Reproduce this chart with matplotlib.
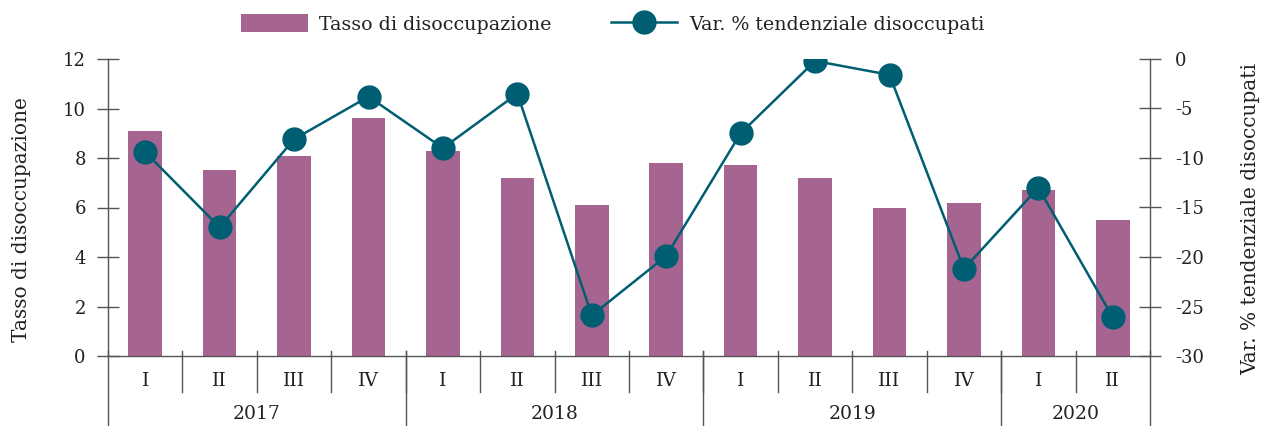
import matplotlib
matplotlib.use("Agg")
import matplotlib.pyplot as plt
from matplotlib.lines import Line2D
from matplotlib.patches import Patch
import numpy as np

quarters = ["I", "II", "III", "IV", "I", "II", "III", "IV", "I", "II", "III", "IV", "I", "II"]
years = ["2017", "2018", "2019", "2020"]
year_counts = [4, 4, 4, 2]
tasso = [9.1, 7.5, 8.1, 9.6, 8.3, 7.2, 6.1, 7.8, 7.7, 7.2, 6.0, 6.2, 6.7, 5.5]
var_pct = [-9.4, -17.0, -8.1, -3.8, -9.0, -3.5, -25.9, -19.9, -7.5, -0.2, -1.6, -21.2, -13.0, -26.1]

bar_color = "#A66590"
line_color = "#005E73"
text_color = "#222222"
axis_color = "#555555"

plt.rcParams["font.family"] = ["DejaVu Serif"]
plt.rcParams["font.size"] = 13
plt.rcParams["axes.unicode_minus"] = False

fig = plt.figure(figsize=(12.66, 4.26), dpi=100)
ax = fig.add_axes([108/1266, 1-356/426, (1150-108)/1266, (356-59)/426])
ax2 = ax.twinx()

x = np.arange(len(quarters))
ax.bar(x, tasso, width=0.45, color=bar_color, zorder=2)
ax2.plot(x, var_pct, color=line_color, lw=1.8, marker="o", markersize=16.5, zorder=3)

ax.set_xlim(-0.5, len(quarters) - 0.5)
ax.set_ylim(0, 12)
ax.set_yticks(range(0, 13, 2))
ax2.set_ylim(-30, 0)
ax2.set_yticks(range(-30, 1, 5))

for a in (ax, ax2):
    a.spines["top"].set_visible(False)
    for s in a.spines.values():
        s.set_color(axis_color)
        s.set_linewidth(1)
ax.spines["right"].set_visible(False)
ax2.spines["left"].set_visible(False)
ax2.spines["bottom"].set_visible(False)

ax.tick_params(axis="y", direction="inout", length=16, width=1, color=axis_color, labelcolor=text_color, pad=8)
ax2.tick_params(axis="y", direction="inout", length=16, width=1, color=axis_color, labelcolor=text_color, pad=10)
ax.set_xticks([])

ax.set_ylabel("Tasso di disoccupazione", color=text_color, fontsize=14.5)
ax2.set_ylabel("Var. % tendenziale disoccupati", color=text_color, fontsize=14.5)
ax.yaxis.set_label_coords((31 - 108) / 1042, 0.461)
ax2.yaxis.set_label_coords((1241 - 108) / 1042, 0.461)

trans = ax.get_xaxis_transform()
# quarter labels & separators
for i, q in enumerate(quarters):
    ax.text(i, -0.083, q, transform=trans, ha="center", va="center", color=text_color, fontsize=13.5)
for b in range(1, len(quarters)):
    ax.plot([b - 0.5, b - 0.5], [0.017, -0.121], transform=trans, color=axis_color, lw=1, clip_on=False)
# year labels & separators
start = 0
bounds = [0]
for yr, n in zip(years, year_counts):
    ax.text(start + n / 2 - 0.5, -0.195, yr, transform=trans, ha="center", va="center", color=text_color, fontsize=13.5)
    start += n
    bounds.append(start)
for b in bounds:
    ax.plot([b - 0.5, b - 0.5], [0.017, -0.25], transform=trans, color=axis_color, lw=1, clip_on=False)

handles = [Patch(facecolor=bar_color, edgecolor="none"),
           Line2D([0], [0], color=line_color, lw=1.8, marker="o", markersize=16.5)]
fig.legend(handles, ["Tasso di disoccupazione", "Var. % tendenziale disoccupati"],
           loc="center", bbox_to_anchor=(0.484, 1 - 24/426), ncol=2, frameon=False,
           handlelength=3.5, handleheight=1.0, handletextpad=0.6, columnspacing=3.1,
           labelcolor=text_color, fontsize=13.7)

fig.savefig("out.png", dpi=100)
